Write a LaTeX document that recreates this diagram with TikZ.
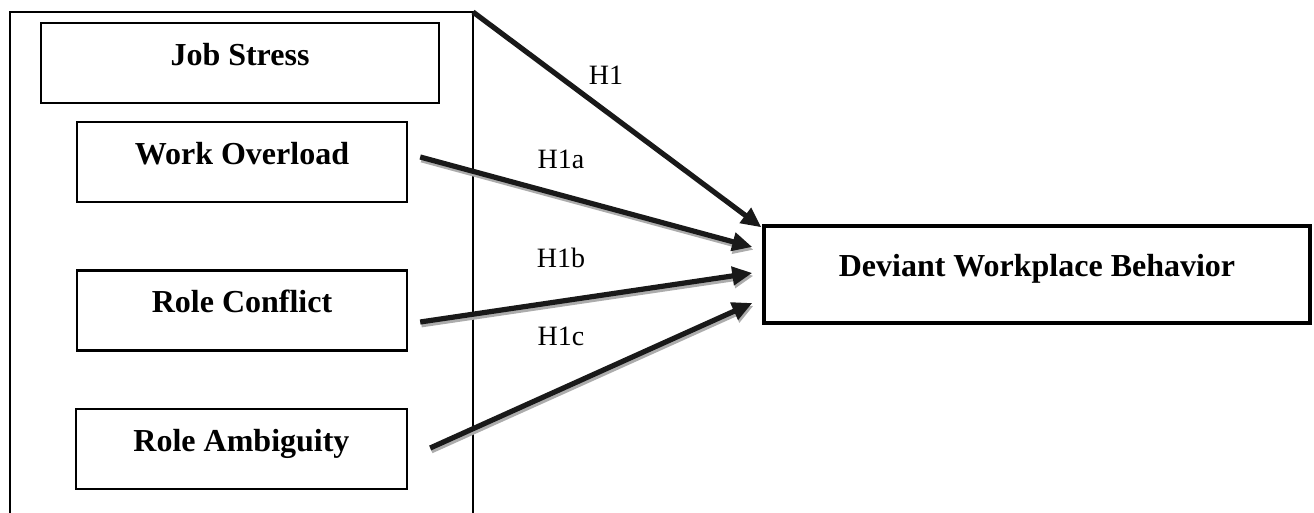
\documentclass[tikz,border=0pt]{standalone}
\usepackage{fontspec}
\setmainfont{Liberation Serif}
\usepackage{tikz}
\usetikzlibrary{arrows.meta}

\begin{document}
\begin{tikzpicture}[x=0.5pt, y=-0.5pt,
  varbox/.style={draw, line width=1.2pt, inner sep=0pt, font=\fontsize{16}{18}\bfseries,
    text height=11pt, text depth=8.5pt, minimum height=40pt},
  hyplabel/.style={font=\fontsize{14}{16}\selectfont, inner sep=0pt},
  hyparrow/.style={line width=2.6pt, draw=black!90, -{Triangle[length=10pt,width=9pt]}},
  shadowed/.style={preaction={draw=gray!65, line width=2.6pt, -{Triangle[length=10pt,width=9pt]},
    transform canvas={xshift=0.6pt, yshift=-1.4pt}}}]
\useasboundingbox (0,0) rectangle (1314,513);
% open frame around the stress dimensions
\coordinate (frame nw) at (10,12);
\coordinate (frame ne) at (473,12);
\draw[line width=1pt] (10,513) -- (frame nw) -- (frame ne) -- (473,513);
\node[varbox, minimum width=199pt] (js) at (240,63) {Job Stress};
\node[varbox, minimum width=165pt] (wo) at (242,162) {Work Overload};
\node[varbox, minimum width=165pt] (rc) at (242,310.5) {Role Conflict};
\node[varbox, minimum width=165.5pt] (ra) at (241.5,449) {Role Ambiguity};
\node[varbox, line width=1.7pt, minimum width=273pt, minimum height=48.5pt] (dwb) at (1037,274.5) {Deviant Workplace Behavior};
% hypotheses
\draw[hyparrow] (frame ne) -- ([xshift=-0.5pt,yshift=-1.5pt]dwb.north west);
\draw[hyparrow, shadowed] ([xshift=6pt,yshift=2.5pt]wo.east) -- ([xshift=-5pt,yshift=13.75pt]dwb.west);
\draw[hyparrow, shadowed] ([xshift=6pt,yshift=-5.75pt]rc.east) -- ([xshift=-5pt,yshift=0.75pt]dwb.west);
\draw[hyparrow, shadowed] ([xshift=11pt,yshift=0.5pt]ra.east) -- ([xshift=-5pt,yshift=-14.25pt]dwb.west);
\node[hyplabel] (h1) at (606,75) {H1};
\node[hyplabel] (h1a) at (561,159) {H1a};
\node[hyplabel] (h1b) at (561,258) {H1b};
\node[hyplabel] (h1c) at (561,336) {H1c};
\end{tikzpicture}
\end{document}
